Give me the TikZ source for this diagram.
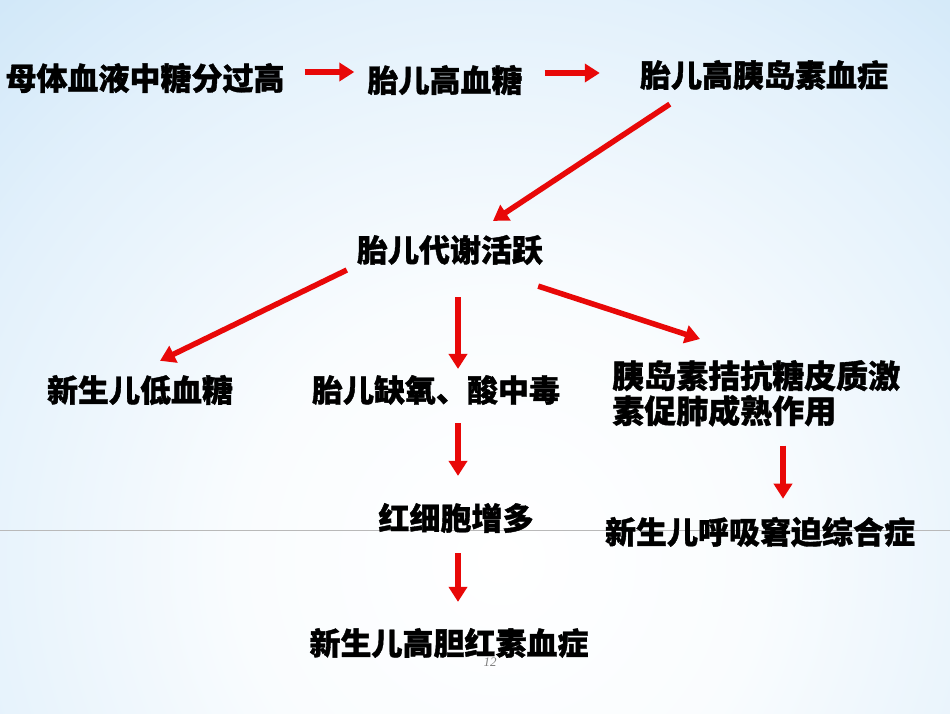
\documentclass[tikz,border=0pt]{standalone}
\usepackage{fontspec}
\setmainfont{Noto Sans CJK SC}[BoldFeatures={FakeBold=1.2}]
\newfontfamily\pagenumfont{Liberation Serif}
\usetikzlibrary{calc,arrows.meta}

\definecolor{bgblue}{RGB}{184,219,245}
\definecolor{arrowred}{RGB}{232,8,8}
\pgfdeclareradialshading{slideglow}{\pgfpoint{0bp}{0bp}}{color(0bp)=(white); color(5bp)=(white!92!bgblue); color(11bp)=(white!60!bgblue); color(16bp)=(white!25!bgblue); color(21bp)=(bgblue); color(50bp)=(bgblue)}

\begin{document}
\begin{tikzpicture}[
    x=1pt,y=-1pt,
    chain/.style={inner sep=0pt,font=\fontsize{31}{35}\selectfont\bfseries},
    longchain/.style={chain,align=left,font=\fontsize{32}{35}\selectfont\bfseries},
    redarrow/.style={draw=arrowred,line width=5.5pt,-{Triangle[length=15pt,width=18pt]}}
    ]

    % background of the slide
    \useasboundingbox (0,0) rectangle (950,713);
    \fill[bgblue] (0,0) rectangle (950,713);
    \begin{scope}
      \clip (0,0) rectangle (950,713);
      \shade[shading=slideglow] (500,560) circle [radius=1300];
    \end{scope}
    \draw[gray!55,line width=0.8pt] (0,530) -- (950,530);

    \node(mother_sugar) [chain] at (145,78) {母体血液中糖分过高};
    \node(fetus_sugar) [chain] at (445,80) {胎儿高血糖};
    \node(fetus_insulin) [chain] at (764,75) {胎儿高胰岛素血症};

    \node(metabolism) [chain] at (450,250) {胎儿代谢活跃};

    \node(hypoglycemia) [chain] at (140,390) {新生儿低血糖};
    \node(hypoxia) [chain] at (436,390) {胎儿缺氧、酸中毒};
    \node(lung) [longchain,anchor=north west] at (612,360) {胰岛素拮抗糖皮质激\\素促肺成熟作用};

    \node(erythro) [chain] at (456,518) {红细胞增多};
    \node(rds) [chain] at (760,532) {新生儿呼吸窘迫综合症};

    \node(bilirubin) [chain] at (449,643) {新生儿高胆红素血症};

    \node(pagenum) [font=\pagenumfont\itshape\fontsize{13}{14}\selectfont,text=gray] at (490,662) {12};

    % top row
    \draw[redarrow,shorten <=20pt,shorten >=13pt] ([yshift=6pt]mother_sugar.east) -- ([yshift=6pt]mother_sugar.east -| fetus_sugar.west);
    \draw[redarrow,shorten <=22pt,shorten >=40pt] ([yshift=7pt]fetus_sugar.east) -- ([yshift=7pt]fetus_sugar.east -| fetus_insulin.west);
    \draw[redarrow] ([shift={(30,14)}]fetus_insulin.south west) -- ([shift={(43,-14)}]metabolism.north);

    % out of the metabolism
    \draw[redarrow] ([shift={(-10,20)}]metabolism.west) -- ([shift={(20,-14)}]hypoglycemia.north);
    \draw[redarrow] ([shift={(8,32)}]metabolism.south) -- ([shift={(22,-6)}]hypoxia.north);
    \draw[redarrow] ([shift={(-5,21)}]metabolism.south east) -- ([shift={(88,-21)}]lung.north west);

    % lower columns
    \draw[redarrow] ([shift={(22,18)}]hypoxia.south) -- ([shift={(2,-27)}]erythro.north);
    \draw[redarrow] ([shift={(171,19)}]lung.south west) -- ([shift={(23,-18)}]rds.north);
    \draw[redarrow] ([shift={(2,20)}]erythro.south) -- ([shift={(9,-26)}]bilirubin.north);

\end{tikzpicture}
\end{document}
